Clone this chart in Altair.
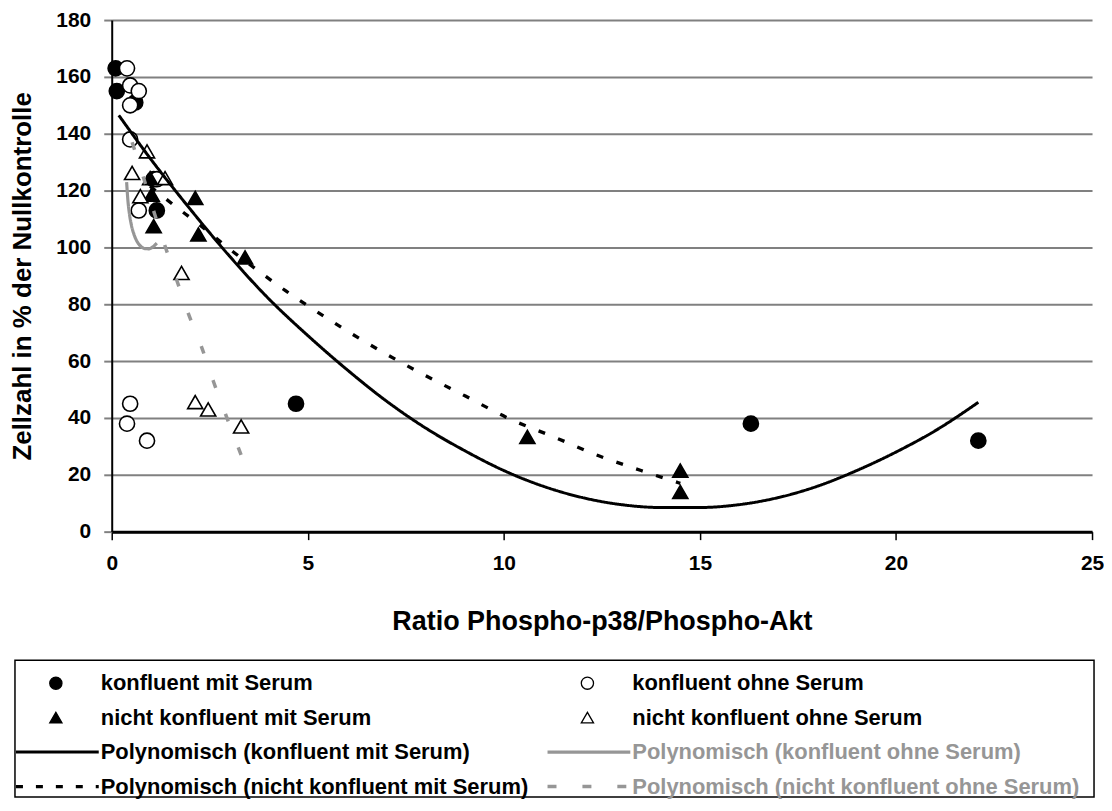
import altair as alt
import pandas as pd

# ---------------- data ----------------
series_names = ["konfluent mit Serum", "konfluent ohne Serum",
                "nicht konfluent mit Serum", "nicht konfluent ohne Serum"]
trend_names = ["Polynomisch (konfluent mit Serum)", "Polynomisch (konfluent ohne Serum)",
               "Polynomisch (nicht konfluent mit Serum)", "Polynomisch (nicht konfluent ohne Serum)"]

# konfluent mit Serum (filled circles)
km_x = [0.10, 0.13, 0.60, 1.07, 1.15, 4.70, 16.3, 22.1]
km_y = [163, 155, 151, 124, 113, 45, 38, 32]
# konfluent ohne Serum (open circles)
ko_x = [0.39, 0.47, 0.69, 0.47, 0.47, 0.69, 1.15, 0.47, 0.39, 0.90]
ko_y = [163, 157, 155, 150, 138, 113, 124, 45, 38, 32]
# nicht konfluent mit Serum (filled triangles)
nm_x = [0.98, 1.02, 1.07, 2.13, 2.21, 3.40, 10.6, 14.5, 14.5]
nm_y = [124.4, 118.6, 107.5, 117.4, 104.6, 96.5, 33.3, 21.5, 14.0]
# nicht konfluent ohne Serum (open triangles)
no_x = [0.52, 0.73, 0.90, 1.36, 1.78, 2.13, 2.46, 3.30]
no_y = [126.2, 118.0, 133.8, 124.4, 91.0, 45.6, 43.0, 37.0]

# trend curves as drawn
tkm_x = [0.18, 1, 2, 3, 4, 5, 6, 7, 8, 9, 10, 11, 12, 13, 14, 15, 16, 17, 18, 19, 20, 21, 22.1]
tkm_y = [146.5, 131, 113.5, 97, 82, 69, 57, 46, 36.5, 28.5, 21.5, 16, 12, 9.5, 8.5, 8.5,
         9.5, 12, 16, 21.5, 28, 35.5, 45.5]
tko_x = [0.38, 0.41, 0.45, 0.50, 0.57, 0.65, 0.75, 0.85, 0.95, 1.05, 1.15]
tko_y = [123, 117, 112, 108, 104.5, 102, 100.3, 99.6, 99.5, 100.2, 101.5]
tnm_x = [0.98, 1.62, 2.17, 3.0, 3.86, 4.45, 5.5, 6.78, 7.88, 9.02, 10.16, 11.28, 12.42, 13.5, 14.5]
tnm_y = [121.5, 114.5, 108.7, 99.5, 90.5, 84.6, 75, 64.2, 55.8, 47.7, 39.6, 33.3, 26.7, 21.5, 17]
tno_x = [0.52, 0.81, 1.1, 1.36, 1.65, 1.96, 2.29, 2.59, 2.9, 3.3]
tno_y = [137, 124.6, 111.5, 100.5, 88.8, 76.5, 65, 53, 41.4, 27]

x_ticks = [0, 5, 10, 15, 20, 25]
y_ticks = [0, 20, 40, 60, 80, 100, 120, 140, 160, 180]

# legend layout (two columns, four rows)
legend_labels = ["konfluent mit Serum", "nicht konfluent mit Serum",
                 "Polynomisch (konfluent mit Serum)", "Polynomisch (nicht konfluent mit Serum)",
                 "konfluent ohne Serum", "nicht konfluent ohne Serum",
                 "Polynomisch (konfluent ohne Serum)", "Polynomisch (nicht konfluent ohne Serum)"]
legend_col = [0, 0, 0, 0, 1, 1, 1, 1]
legend_row = [0, 1, 2, 3, 0, 1, 2, 3]

# ---------------- tables ----------------
pts = pd.concat([
    pd.DataFrame({"x": km_x, "y": km_y, "serie": series_names[0]}),
    pd.DataFrame({"x": ko_x, "y": ko_y, "serie": series_names[1]}),
    pd.DataFrame({"x": nm_x, "y": nm_y, "serie": series_names[2]}),
    pd.DataFrame({"x": no_x, "y": no_y, "serie": series_names[3]}),
], ignore_index=True)

trend = pd.concat([
    pd.DataFrame({"x": tkm_x, "y": tkm_y, "serie": trend_names[0]}),
    pd.DataFrame({"x": tko_x, "y": tko_y, "serie": trend_names[1]}),
    pd.DataFrame({"x": tnm_x, "y": tnm_y, "serie": trend_names[2]}),
    pd.DataFrame({"x": tno_x, "y": tno_y, "serie": trend_names[3]}),
], ignore_index=True)

leg = pd.DataFrame({"label": legend_labels, "col": legend_col, "row": legend_row})

# ---------------- styling ----------------
FONT = "Liberation Sans"
GRAY = "#969696"
GRID = "#808080"

shape_scale = alt.Scale(domain=series_names, range=["circle", "circle", "triangle-up", "triangle-up"])
fill_scale = alt.Scale(domain=series_names, range=["black", "white", "black", "white"])
line_color = alt.Scale(domain=trend_names, range=["black", GRAY, "black", GRAY])
line_dash = alt.Scale(domain=trend_names, range=[[1, 0], [1, 0], [7, 14], [8, 28]])
line_width = alt.Scale(domain=trend_names, range=[3, 3.5, 3.5, 5])
legend_dash = alt.Scale(domain=trend_names, range=[[1, 0], [1, 0], [7, 13], [9, 26]])
text_color = alt.Scale(domain=legend_labels,
                       range=["black", "black", "black", "black", "black", "black", GRAY, GRAY])

x_axis = alt.Axis(values=x_ticks, grid=False, domainColor="black", domainWidth=3,
                  tickColor="black", tickSize=8, tickWidth=1.5, labelFlush=False,
                  labelFont=FONT, labelFontSize=21, labelFontWeight="bold", labelColor="black",
                  labelPadding=13, title="Ratio Phospho-p38/Phospho-Akt",
                  titleFont=FONT, titleFontSize=27, titleFontWeight="bold", titleColor="black",
                  titlePadding=35)
y_axis = alt.Axis(values=y_ticks, grid=True, gridColor=GRID, gridWidth=2,
                  domainColor="black", domainWidth=2,
                  tickColor=GRID, tickSize=8, tickWidth=2, labelFlush=False,
                  labelFont=FONT, labelFontSize=21, labelFontWeight="bold", labelColor="black",
                  labelPadding=13, title="Zellzahl in % der Nullkontrolle",
                  titleFont=FONT, titleFontSize=26, titleFontWeight="bold", titleColor="black",
                  titlePadding=20)

xs = alt.Scale(domain=[0, 25], nice=False, zero=False)
ys = alt.Scale(domain=[0, 180], nice=False)

points = alt.Chart(pts).mark_point(filled=True, stroke="black", strokeWidth=1.6,
                                   opacity=1, size=230).encode(
    x=alt.X("x:Q", scale=xs, axis=x_axis),
    y=alt.Y("y:Q", scale=ys, axis=y_axis),
    shape=alt.Shape("serie:N", scale=shape_scale, legend=None),
    fill=alt.Fill("serie:N", scale=fill_scale, legend=None),
)

lines = alt.Chart(trend).mark_line(interpolate="monotone").encode(
    x=alt.X("x:Q", scale=xs),
    y=alt.Y("y:Q", scale=ys),
    color=alt.Color("serie:N", scale=line_color, legend=None),
    strokeDash=alt.StrokeDash("serie:N", scale=line_dash, legend=None),
    strokeWidth=alt.StrokeWidth("serie:N", scale=line_width, legend=None),
)

main = alt.layer(points, lines).properties(width=983, height=513)

# ---------------- legend box ----------------
# column 0 starts 97 px left of the plot origin, columns are 533 px apart
LX0, LX1 = 0.182, 2.030
LY0, LY1 = -0.663, 3.30
lscale_x = alt.Scale(domain=[LX0, LX1], nice=False, zero=False)
lscale_y = alt.Scale(domain=[LY0, LY1], nice=False, zero=False, reverse=True)
lx = alt.X("col:Q", scale=lscale_x, axis=None)
ly = alt.Y("row:Q", scale=lscale_y, axis=None)

leg_base = alt.Chart(leg)

leg_box = alt.Chart(pd.DataFrame({"box": [1]})).mark_rect(
    filled=False, stroke="black", strokeWidth=1.5
).encode(
    x=alt.X(datum=0, scale=lscale_x, axis=None),
    x2=alt.datum(LX1),
    y=alt.Y(datum=LY0, scale=lscale_y, axis=None),
    y2=alt.datum(LY1),
)

leg_marks = leg_base.transform_filter(
    alt.FieldOneOfPredicate(field="label", oneOf=series_names)
).mark_point(filled=True, stroke="black", strokeWidth=1.3, opacity=1, size=150, xOffset=41).encode(
    x=lx, y=ly,
    shape=alt.Shape("label:N", scale=shape_scale, legend=None),
    fill=alt.Fill("label:N", scale=fill_scale, legend=None),
)

leg_lines = leg_base.transform_filter(
    alt.FieldOneOfPredicate(field="label", oneOf=trend_names)
).mark_rule(xOffset=1, x2Offset=84).encode(
    x=lx, x2=alt.X2("col"), y=ly,
    color=alt.Color("label:N", scale=line_color, legend=None),
    strokeDash=alt.StrokeDash("label:N", scale=legend_dash, legend=None),
    strokeWidth=alt.StrokeWidth("label:N", scale=line_width, legend=None),
)

leg_text = leg_base.mark_text(align="left", baseline="middle", dx=86, font=FONT,
                              fontSize=22, fontWeight="bold").encode(
    x=lx, y=ly, text="label:N",
    color=alt.Color("label:N", scale=text_color, legend=None),
)

legend = alt.layer(leg_box, leg_marks, leg_lines, leg_text).resolve_scale(
    color="independent", strokeDash="independent", strokeWidth="independent",
    shape="independent", fill="independent"
).properties(width=985, height=137)

chart = alt.vconcat(main, legend, spacing=25).configure_view(
    strokeWidth=0
).properties(
    padding={"left": 1, "top": 0, "right": 0, "bottom": 0},
    background="white",
)

chart.save("out.html", embed_options={"renderer": "svg", "actions": False})
